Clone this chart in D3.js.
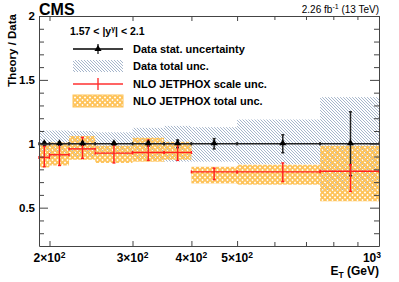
<!DOCTYPE html>
<html><head><meta charset="utf-8">
<script src="https://cdn.jsdelivr.net/npm/d3@7"></script>
<style>body{margin:0;background:#fff} svg{display:block;font-family:"Liberation Sans",Arial,Helvetica,sans-serif}</style>
</head><body><svg id="c" width="399" height="282"></svg>
<script>
// ---- data ----
const binEdges=[190,200,220,250,300,350,400,500,750,1000];
const binCenters=[195,210,235,274,324,374,447,625,870];
const dataValue=[1,1,1,1,1,1,1,1,1];
const dataStatErr=[0.012,0.012,0.012,0.012,0.018,0.03,0.04,0.07,0.25];
const dataTotUp=[0.104,0.104,0.10,0.09,0.125,0.14,0.13,0.19,0.365];
const dataTotDown=[0.104,0.104,0.10,0.09,0.125,0.14,0.14,0.16,0.365];
const nloValue=[0.893,0.914,0.96,0.927,0.932,0.932,0.78,0.78,0.785];
const nloScaleLow=[0.82,0.83,0.885,0.85,0.87,0.87,0.72,0.705,0.627];
const nloScaleHigh=[0.98,1.0,1.05,1.005,1.03,1.005,0.81,0.85,0.836];
const nloTotLow=[0.815,0.83,0.875,0.85,0.86,0.875,0.69,0.68,0.55];
const nloTotHigh=[0.99,1.01,1.06,0.985,1.047,1.015,0.82,0.836,0.984];
const yMajorTicks=[0.5,1,1.5,2];
const yMinorTicks=[0.3,0.4,0.6,0.7,0.8,0.9,1.1,1.2,1.3,1.4,1.6,1.7,1.8,1.9];
const xMajorTicks=[200,300,400,500,1000];
const xMinorTicks=[600,700,800,900];
const xTickMantissa=["2","3","4","5"];
const legendLabels=["Data stat. uncertainty","Data total unc.","NLO JETPHOX scale unc.","NLO JETPHOX total unc."];

const svg=d3.select("#c");
const L=39,R=379,T=16,B=246;
const x=d3.scaleLog().domain([190,1000]).range([L,R]);
const y=d3.scaleLinear().domain([0.2,2]).range([B,T]);
const bins=d3.range(binCenters.length);

const defs=svg.append("defs");
const hp=defs.append("pattern").attr("id","hatch").attr("patternUnits","userSpaceOnUse").attr("width",3).attr("height",3);
hp.append("path").attr("d","M-1,-1L4,4M-1,2L1,4M2,-1L4,1").attr("stroke","#8fa3bf").attr("stroke-width",0.8).attr("fill","none");
const op=defs.append("pattern").attr("id","orange").attr("patternUnits","userSpaceOnUse").attr("width",5).attr("height",5);
op.append("path").attr("d","M0,0L5,5M5,0L0,5").attr("stroke","#fec35a").attr("stroke-width",1.9).attr("fill","none");
op.append("circle").attr("cx",2.5).attr("cy",2.5).attr("r",1.2).attr("fill","#fec35a");

const plot=svg.append("g");
plot.selectAll("rect.dtot").data(bins).join("rect").attr("class","dtot")
  .attr("x",i=>x(binEdges[i])).attr("width",i=>x(binEdges[i+1])-x(binEdges[i]))
  .attr("y",i=>y(dataValue[i]+dataTotUp[i])).attr("height",i=>y(dataValue[i]-dataTotDown[i])-y(dataValue[i]+dataTotUp[i]))
  .attr("fill","url(#hatch)");
plot.selectAll("rect.ntot").data(bins).join("rect").attr("class","ntot")
  .attr("x",i=>x(binEdges[i])).attr("width",i=>x(binEdges[i+1])-x(binEdges[i]))
  .attr("y",i=>y(nloTotHigh[i])).attr("height",i=>y(nloTotLow[i])-y(nloTotHigh[i]))
  .attr("fill","url(#orange)");

function errSeries(color,val,lo,hi,cap,w){
  const g=plot.append("g").attr("stroke",color).attr("stroke-width",w).attr("fill","none");
  bins.forEach(i=>{
    const xa=x(binEdges[i]),xb=x(binEdges[i+1]),xc=x(binCenters[i]),yv=y(val[i]);
    g.append("line").attr("x1",xa).attr("x2",xb).attr("y1",yv).attr("y2",yv);
    g.append("line").attr("x1",xa).attr("x2",xa).attr("y1",yv-1.5).attr("y2",yv+1.5);
    g.append("line").attr("x1",xb).attr("x2",xb).attr("y1",yv-1.5).attr("y2",yv+1.5);
    g.append("line").attr("x1",xc).attr("x2",xc).attr("y1",y(hi[i])).attr("y2",y(lo[i]));
    g.append("line").attr("x1",xc-cap).attr("x2",xc+cap).attr("y1",y(hi[i])).attr("y2",y(hi[i]));
    g.append("line").attr("x1",xc-cap).attr("x2",xc+cap).attr("y1",y(lo[i])).attr("y2",y(lo[i]));
  });
}
errSeries("#222",dataValue,dataValue.map((v,i)=>v-dataStatErr[i]),dataValue.map((v,i)=>v+dataStatErr[i]),1.5,1.5);
errSeries("#ff2020",nloValue,nloScaleLow,nloScaleHigh,1.5,1.4);
const tri=d3.symbol(d3.symbolTriangle,22);
plot.selectAll("path.mk").data(bins).join("path").attr("class","mk")
  .attr("d",tri).attr("transform",i=>`translate(${x(binCenters[i])},${y(dataValue[i])-0.5})`).attr("fill","#000");

const ax=svg.append("g").attr("font-weight","bold").attr("fill","#000");
const axColor="#444";
function styleAxis(g){g.selectAll("line").attr("stroke",axColor);g.select(".domain").attr("stroke",axColor);}
const yl=svg.append("g").attr("transform",`translate(${L},0)`)
  .call(d3.axisLeft(y).tickValues(yMajorTicks).tickSize(-9).tickSizeOuter(0).tickPadding(4).tickFormat(d3.format("")));
yl.selectAll("text").attr("font-size",11.5).attr("font-weight","bold").attr("font-family","Liberation Sans, Arial, sans-serif").attr("fill","#000");
styleAxis(yl);
svg.append("g").attr("transform",`translate(${L},0)`).call(d3.axisLeft(y).tickValues(yMinorTicks).tickSize(-5).tickSizeOuter(0).tickFormat("")).call(styleAxis).select(".domain").remove();
svg.append("g").attr("transform",`translate(${R},0)`).call(d3.axisRight(y).tickValues(yMajorTicks).tickSize(-9).tickSizeOuter(0).tickFormat("")).call(styleAxis);
svg.append("g").attr("transform",`translate(${R},0)`).call(d3.axisRight(y).tickValues(yMinorTicks).tickSize(-5).tickSizeOuter(0).tickFormat("")).call(styleAxis).select(".domain").remove();
svg.append("g").attr("transform",`translate(0,${B})`).call(d3.axisBottom(x).tickValues(xMajorTicks).tickSize(-5).tickSizeOuter(0).tickFormat("")).call(styleAxis);
svg.append("g").attr("transform",`translate(0,${B})`).call(d3.axisBottom(x).tickValues(xMinorTicks).tickSize(-4).tickSizeOuter(0).tickFormat("")).call(styleAxis).select(".domain").remove();
svg.append("g").attr("transform",`translate(0,${T})`).call(d3.axisTop(x).tickValues(xMajorTicks).tickSize(-5).tickSizeOuter(0).tickFormat("")).call(styleAxis);
svg.append("g").attr("transform",`translate(0,${T})`).call(d3.axisTop(x).tickValues(xMinorTicks).tickSize(-4).tickSizeOuter(0).tickFormat("")).call(styleAxis).select(".domain").remove();

xTickMantissa.forEach((m,i)=>{
  const t=ax.append("text").attr("x",x(xMajorTicks[i])).attr("y",262).attr("text-anchor","middle").attr("font-size",12);
  t.append("tspan").text(m+"\u00d710");
  t.append("tspan").attr("dy",-4.5).attr("font-size",8.5).text("2");
});
{
  const t=ax.append("text").attr("x",x(1000)+2).attr("y",262).attr("text-anchor","end").attr("font-size",12);
  t.append("tspan").text("10");
  t.append("tspan").attr("dy",-4.5).attr("font-size",8.5).text("3");
}
{
  const t=ax.append("text").attr("x",R).attr("y",275).attr("text-anchor","end").attr("font-size",12);
  t.append("tspan").text("E");
  t.append("tspan").attr("dy",2.5).attr("font-size",8.5).text("T");
  t.append("tspan").attr("dy",-2.5).text(" (GeV)");
}
ax.append("text").attr("transform","translate(16,14) rotate(-90)").attr("text-anchor","end").attr("font-size",11.5).text("Theory / Data");
ax.append("text").attr("x",L).attr("y",15).attr("font-size",16).text("CMS");
{
  const t=svg.append("text").attr("x",R).attr("y",13).attr("text-anchor","end").attr("font-size",10).attr("fill","#000");
  t.append("tspan").text("2.26 fb");
  t.append("tspan").attr("dy",-4).attr("font-size",7).text("-1");
  t.append("tspan").attr("dy",4).text(" (13 TeV)");
}
{
  const t=ax.append("text").attr("x",70).attr("y",35).attr("font-size",10.5);
  t.append("tspan").text("1.57 < |y");
  t.append("tspan").attr("dy",-4).attr("font-size",7).text("\u03b3");
  t.append("tspan").attr("dy",4).text("| < 2.1");
}
const lx0=73,lx1=123,lxc=98,rows=[49,66,84,101];
const lg=svg.append("g");
lg.append("line").attr("x1",lx0).attr("x2",lx1).attr("y1",rows[0]).attr("y2",rows[0]).attr("stroke","#000").attr("stroke-width",1.4);
lg.append("line").attr("x1",lxc).attr("x2",lxc).attr("y1",rows[0]-5).attr("y2",rows[0]+5).attr("stroke","#000").attr("stroke-width",1.2);
lg.append("path").attr("d",tri).attr("transform",`translate(${lxc},${rows[0]})`).attr("fill","#000");
lg.append("rect").attr("x",lx0).attr("y",rows[1]-6).attr("width",lx1-lx0).attr("height",12).attr("fill","url(#hatch)");
lg.append("line").attr("x1",lx0).attr("x2",lx1).attr("y1",rows[2]).attr("y2",rows[2]).attr("stroke","#ff3030").attr("stroke-width",1.4);
lg.append("line").attr("x1",lxc).attr("x2",lxc).attr("y1",rows[2]-6).attr("y2",rows[2]+6).attr("stroke","#ff3030").attr("stroke-width",1.4);
lg.append("rect").attr("x",lx0).attr("y",rows[3]-6).attr("width",lx1-lx0).attr("height",12).attr("fill","url(#orange)").attr("stroke","#fec35a").attr("stroke-width",1);
legendLabels.forEach((s,i)=>{
  ax.append("text").attr("x",133).attr("y",rows[i]+4).attr("font-size",11).text(s);
});
</script></body></html>
